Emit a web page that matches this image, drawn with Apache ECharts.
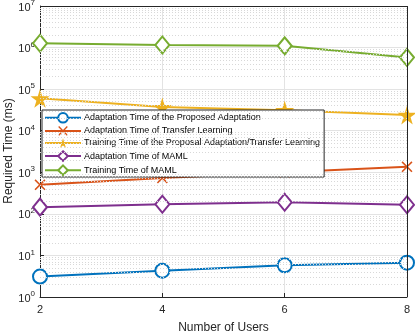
<!DOCTYPE html>
<html>
<head>
<meta charset="utf-8">
<title>Required time</title>
<script src="https://cdn.jsdelivr.net/npm/echarts@6/dist/echarts.min.js"></script>
<style>
  html, body { margin: 0; padding: 0; background: #fff; }
  #chart { width: 415px; height: 332px; }
</style>
</head>
<body>
<div id="chart"></div>
<script>
// data
var users = [2, 4, 6, 8];
var proposedAdapt = [3.1, 4.3, 5.8, 6.7];
var transferAdapt = [500, 730, 1000, 1350];
var proposedTrain = [60000, 37000, 31000, 24000];
var mamlAdapt = [145, 170, 190, 165];
var mamlTrain = [1270000, 1150000, 1100000, 580000];

var names = [
  'Adaptation Time of the Proposed Adaptation',
  'Adaptation Time of Transfer Learning',
  'Training Time of the Proposal Adaptation/Transfer Learning',
  'Adaptation Time of MAML',
  'Training Time of MAML'
];
var colors = ['#0072BD', '#D95319', '#EDB120', '#7E2F8E', '#77AC30'];

var starPath = 'path://M50,0 L61,35 L98,35 L68,57 L79,91 L50,70 L21,91 L32,57 L2,35 L39,35 Z';
var crossPath = 'path://M0,2 L2,0 L10,8 L18,0 L20,2 L12,10 L20,18 L18,20 L10,12 L2,20 L0,18 L8,10 Z';

// minor grid lines at 2..9 x 10^k
var minorLines = [];
for (var k = 0; k < 7; k++) {
  for (var m = 2; m <= 9; m++) {
    minorLines.push({ yAxis: m * Math.pow(10, k) });
  }
}

function pairs(vals) {
  return users.map(function (u, i) { return [u, vals[i]]; });
}

function lineSeries(idx, vals, symbol, size, filled) {
  return {
    name: names[idx],
    type: 'line',
    data: pairs(vals),
    symbol: symbol,
    symbolSize: size,
    showAllSymbol: true,
    color: colors[idx],
    lineStyle: { color: colors[idx], width: 2 },
    itemStyle: filled
      ? { color: colors[idx], borderWidth: 0 }
      : { color: colors[idx], borderColor: colors[idx], borderWidth: 2 },
    emphasis: { disabled: true },
    z: 3
  };
}

var chart = echarts.init(document.getElementById('chart'));
chart.setOption({
  animation: false,
  textStyle: { fontFamily: 'Liberation Sans, Arial, sans-serif' },
  grid: { left: 40, right: 8, top: 6, bottom: 35, containLabel: false, outerBoundsMode: 'none' },
  // y axis title (axis name flips sides in this setup, so drawn here)
  graphic: [{
    type: 'text',
    x: 9, y: 151,
    rotation: Math.PI / 2,
    style: {
      text: 'Required Time (ms)',
      fill: '#262626',
      font: '12px Liberation Sans, Arial, sans-serif',
      align: 'center',
      verticalAlign: 'middle'
    }
  }],
  xAxis: {
    type: 'value',
    min: 2, max: 8, interval: 2,
    name: 'Number of Users',
    nameLocation: 'middle',
    nameGap: 25,
    nameMoveOverlap: false,
    nameTextStyle: { fontSize: 12, color: '#262626' },
    axisLine: { show: true, onZero: false, lineStyle: { color: '#262626', width: 1 } },
    axisTick: { show: true, inside: true, length: 4, lineStyle: { color: '#262626' } },
    axisLabel: { fontSize: 11, color: '#262626', margin: 7 },
    splitLine: { show: true, lineStyle: { color: '#e3e3e3', width: 1 } }
  },
  yAxis: {
    type: 'log',
    logBase: 10,
    min: 1, max: 1e7,
    axisLine: { show: true, lineStyle: { color: '#262626', width: 1 } },
    axisTick: { show: true, inside: true, length: 4, lineStyle: { color: '#262626' } },
    axisLabel: {
      margin: 5,
      align: 'right',
      formatter: function (v) {
        var e = Math.round(Math.log10(v));
        return '{b|10}{e|' + e + '}';
      },
      rich: {
        b: { fontSize: 11, color: '#262626', verticalAlign: 'bottom' },
        e: { fontSize: 8, color: '#262626', verticalAlign: 'bottom', padding: [0, 0, 6, 0] }
      }
    },
    splitLine: { show: true, lineStyle: { color: '#e3e3e3', width: 1 } }
  },
  legend: {
    orient: 'vertical',
    left: 42, top: 110,
    itemWidth: 36, itemHeight: 12, itemGap: 2.5,
    padding: [2, 4, 1, 2],
    backgroundColor: '#fff',
    borderColor: '#262626',
    borderWidth: 1,
    textStyle: { fontSize: 9, color: '#000', padding: [0, 0, 0, -2] },
    data: names
  },
  series: [
    lineSeries(0, proposedAdapt, 'emptyCircle', 14, false),
    lineSeries(1, transferAdapt, crossPath, 11, true),
    lineSeries(2, proposedTrain, starPath, 19, true),
    lineSeries(3, mamlAdapt, 'emptyDiamond', [14, 17], false),
    lineSeries(4, mamlTrain, 'emptyDiamond', [14, 17], false),
    {
      type: 'line',
      data: [],
      silent: true,
      z: 1,
      markLine: {
        silent: true,
        symbol: 'none',
        label: { show: false },
        lineStyle: { color: '#d8d8d8', type: [1, 2], width: 1 },
        data: minorLines
      }
    },
    {
      type: 'line',
      data: [],
      silent: true,
      z: 1,
      markLine: {
        silent: true,
        symbol: 'none',
        label: { show: false },
        lineStyle: { color: '#262626', type: 'solid', width: 1 },
        data: [{ yAxis: 1e7 }, { xAxis: 8 }]
      }
    }
  ]
});
</script>
</body>
</html>
